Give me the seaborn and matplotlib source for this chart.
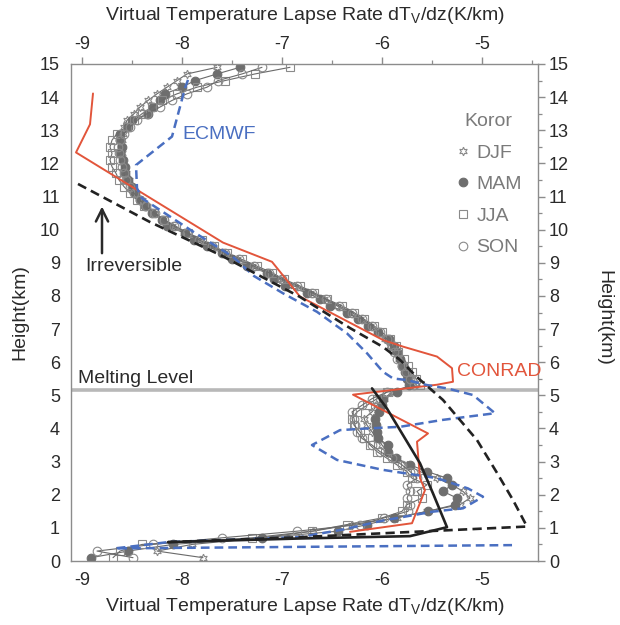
import matplotlib
matplotlib.use("Agg")
import matplotlib.pyplot as plt
import seaborn as sns
import pandas as pd
from matplotlib.lines import Line2D
from matplotlib.ticker import MultipleLocator

# ---------------- data ----------------
heights = [0.1, 0.3, 0.5, 0.7, 0.9, 1.1, 1.3, 1.5, 1.7, 1.9, 2.1, 2.3, 2.5, 2.7, 2.9,
           3.1, 3.3, 3.5, 3.7, 3.9, 4.1, 4.3, 4.5, 4.7, 4.9, 5.1, 5.3, 5.5, 5.7, 5.9,
           6.1, 6.3, 6.5, 6.7, 6.9, 7.1, 7.3, 7.5, 7.7, 7.9, 8.1, 8.3, 8.5, 8.7, 8.9,
           9.1, 9.3, 9.5, 9.7, 9.9, 10.1, 10.3, 10.5, 10.7, 10.9, 11.1, 11.3, 11.5, 11.7, 11.9,
           12.1, 12.3, 12.5, 12.7, 12.9, 13.1, 13.3, 13.5, 13.7, 13.9, 14.1, 14.3, 14.5, 14.7, 14.9]

djf = [-7.79, -8.25, -7.90, -7.20, -6.69, -6.30, -5.85, -5.55, -5.22, -5.12, -5.19, -5.30, -5.45, -5.62, -5.75,
       -5.85, -5.95, -6.00, -6.05, -6.10, -6.15, -6.18, -6.10, -6.05, -5.98, -5.90,
       -5.70, -5.72, -5.74, -5.78, -5.83, -5.87, -5.92, -5.97, -6.05, -6.12, -6.22, -6.33, -6.45, -6.58,
       -6.72, -6.88, -7.02, -7.15, -7.30, -7.45, -7.58, -7.72, -7.85, -7.98, -8.10, -8.20, -8.28, -8.35,
       -8.40, -8.46, -8.50, -8.53, -8.56, -8.58, -8.60, -8.60, -8.61, -8.60, -8.59,
       -8.58, -8.55, -8.48, -8.42, -8.34, -8.25, -8.15, -8.05, -7.95, -7.65]
mam = [-8.91, -8.54, -8.09, -7.20, -6.44, -6.15, -5.88, -5.54, -5.27, -5.25, -5.39, -5.30, -5.35, -5.55, -5.72,
       -5.86, -5.94, -5.94, -6.04, -6.05, -6.06, -6.07, -6.03, -6.00, -5.99, -5.85,
       -5.73, -5.75, -5.77, -5.80, -5.82, -5.85, -5.88, -5.93, -6.04, -6.14, -6.24, -6.35, -6.52, -6.62,
       -6.75, -6.97, -7.08, -7.15, -7.35, -7.50, -7.60, -7.75, -7.88, -7.97, -8.15, -8.20, -8.30, -8.37,
       -8.42, -8.47, -8.50, -8.54, -8.57, -8.57, -8.59, -8.62, -8.60, -8.62, -8.62,
       -8.54, -8.50, -8.34, -8.29, -8.22, -8.17, -8.00, -7.87, -7.65, -7.42]
jja = [-8.69, -8.62, -8.40, -7.30, -6.70, -6.35, -6.00, -5.80, -5.75, -5.60, -5.65, -5.55, -5.70, -5.75, -5.85,
       -5.95, -6.05, -6.12, -6.18, -6.22, -6.28, -6.30, -6.25, -6.15, -6.05, -5.95,
       -5.62, -5.66, -5.70, -5.74, -5.78, -5.84, -5.86, -5.92, -6.00, -6.08, -6.18, -6.28, -6.40, -6.55,
       -6.68, -6.82, -6.98, -7.10, -7.25, -7.40, -7.55, -7.68, -7.80, -7.94, -8.06, -8.18, -8.28, -8.38,
       -8.45, -8.52, -8.58, -8.63, -8.66, -8.70, -8.72, -8.70, -8.72, -8.70, -8.65,
       -8.55, -8.48, -8.40, -8.30, -8.20, -8.05, -7.85, -7.57, -7.27, -6.92]
son = [-8.49, -8.85, -8.29, -7.60, -6.85, -6.22, -5.98, -5.74, -5.72, -5.75, -5.72, -5.75, -5.65, -5.72, -5.80,
       -5.90, -6.02, -6.10, -6.20, -6.25, -6.27, -6.28, -6.30, -6.20, -6.10, -5.95,
       -5.68, -5.72, -5.76, -5.80, -5.85, -5.88, -5.90, -5.95, -6.02, -6.10, -6.20, -6.30, -6.43, -6.56,
       -6.70, -6.85, -7.00, -7.13, -7.28, -7.43, -7.57, -7.70, -7.83, -7.95, -8.08, -8.18, -8.27, -8.36,
       -8.42, -8.48, -8.52, -8.56, -8.58, -8.60, -8.62, -8.63, -8.64, -8.62, -8.58,
       -8.52, -8.45, -8.35, -8.22, -8.10, -7.95, -7.75, -7.64, -7.40, -7.20]

conrad_x = [-8.89, -8.92, -9.06, -7.59, -7.10, -6.82, -5.99, -5.79, -5.45, -5.30, -5.29, -5.45, -6.29,
            -5.54, -5.65, -5.62, -5.57, -5.70, -6.32]
conrad_y = [14.11, 13.18, 12.33, 9.61, 9.03, 7.98, 6.67, 6.47, 6.17, 5.82, 5.41, 5.32, 5.02,
            3.85, 3.60, 2.50, 2.14, 1.14, 0.88]

ecmwf_x = [-7.94, -7.97, -8.10, -8.46, -8.45, -8.40, -7.92, -7.49, -7.28, -6.99, -6.65, -6.35, -6.15,
           -5.99, -5.89, -5.75, -5.55, -5.35, -5.09, -4.87, -5.39, -5.82, -6.15, -6.42, -6.70, -6.45,
           -5.99, -5.45, -5.14, -4.99, -5.19, -5.49, -5.99, -6.39, -6.82, -8.14, -8.67, -4.67]
ecmwf_y = [14.52, 14.27, 12.81, 11.95, 11.25, 10.95, 10.00, 9.18, 8.60, 8.08, 7.52, 6.87, 6.27,
           5.71, 5.51, 5.46, 5.31, 5.21, 5.01, 4.46, 4.26, 4.05, 4.00, 3.95, 3.50, 3.05,
           2.75, 2.50, 2.19, 1.94, 1.59, 1.49, 1.22, 0.95, 0.72, 0.57, 0.38, 0.48]

irrev_x = [-9.04, -8.32, -7.62, -6.82, -6.32, -5.99, -5.82, -5.65, -5.39, -5.05, -4.85, -4.69, -4.55, -6.82, -8.14]
irrev_y = [11.38, 10.23, 9.24, 7.97, 7.03, 6.46, 6.07, 5.55, 4.86, 3.65, 2.66, 1.84, 1.04, 0.72, 0.57]

rev_x = [-6.10, -5.95, -5.82, -5.62, -5.49, -5.35, -5.72, -6.82, -8.14]
rev_y = [5.21, 4.60, 3.95, 2.95, 2.04, 1.02, 0.75, 0.68, 0.57]

melting_level = 5.16
x_ticks = [-9, -8, -7, -6, -5]
y_ticks = list(range(0, 16))
season_names = ["DJF", "MAM", "JJA", "SON"]

# ---------------- style ----------------
sns.set_theme(style="white")
plt.rcParams["font.family"] = ["Liberation Sans", "DejaVu Sans"]
plt.rcParams["axes.unicode_minus"] = False

fig = plt.figure(figsize=(6.2, 6.25), dpi=100)
ax = fig.add_axes([71 / 620, 1 - 561 / 625, 467 / 620, 497 / 625])

GRAY = "#6a6a6a"
series = {"DJF": djf, "MAM": mam, "JJA": jja, "SON": son}
mstyle = {
    "DJF": dict(marker=(6, 1, 0), markersize=6.2, markerfacecolor="none", markeredgecolor="#8a8a8a"),
    "MAM": dict(marker="o", markersize=6.2, markerfacecolor="#6e6e6e", markeredgecolor="#6e6e6e"),
    "JJA": dict(marker="s", markersize=6.2, markerfacecolor="none", markeredgecolor="#8a8a8a"),
    "SON": dict(marker="o", markersize=6.2, markerfacecolor="none", markeredgecolor="#8a8a8a"),
}
for name in season_names:
    df = pd.DataFrame({"lapse": series[name], "height": heights})
    sns.lineplot(data=df, x="lapse", y="height", sort=False, estimator=None, ax=ax,
                 color=GRAY, linewidth=0.8, markeredgewidth=0.8, zorder=2, **mstyle[name])

RED = "#e2553b"
BLUE = "#4a6fc1"
sns.lineplot(x=conrad_x, y=conrad_y, sort=False, estimator=None, ax=ax, color=RED, linewidth=1.4, zorder=3)
sns.lineplot(x=ecmwf_x, y=ecmwf_y, sort=False, estimator=None, ax=ax, color=BLUE, linewidth=1.8,
             linestyle=(0, (3.5, 2.0)), zorder=3)
sns.lineplot(x=irrev_x, y=irrev_y, sort=False, estimator=None, ax=ax, color="#222222", linewidth=1.9,
             linestyle=(0, (3.5, 2.0)), zorder=4)
sns.lineplot(x=rev_x, y=rev_y, sort=False, estimator=None, ax=ax, color="#222222", linewidth=1.9, zorder=4)

ax.axhline(melting_level, color="#b8b8b8", linewidth=2.6, zorder=1)

# ---------------- axes ----------------
ax.set_xlim(-9.11, -4.44)
ax.set_ylim(0, 15)
ax.set_xticks(x_ticks)
ax.set_yticks(y_ticks)
ax.xaxis.set_minor_locator(MultipleLocator(0.5))
ax.yaxis.set_minor_locator(MultipleLocator(0.5))
for s in ax.spines.values():
    s.set_color("#8c8c8c")
    s.set_linewidth(1.0)
ax.tick_params(which="both", direction="out", color="#8c8c8c", labelcolor="#2a2a2a",
               top=True, right=True, labeltop=True, labelright=True, labelsize=13, pad=3)
ax.tick_params(which="major", length=5, width=1.0)
ax.tick_params(which="minor", length=3, width=0.9)

xlabel = r"Virtual Temperature Lapse Rate dT$_\mathregular{V}$/dz(K/km)"
ax.set_xlabel(xlabel, fontsize=14, color="#2a2a2a", labelpad=5)
ax.set_ylabel("Height(km)", fontsize=14, color="#2a2a2a", labelpad=8)
fig.text(304.5 / 620, 1 - 16 / 625, xlabel, fontsize=14, color="#2a2a2a", ha="center", va="center")
fig.text(604 / 620, 1 - 318 / 625, "Height(km)", fontsize=14, color="#2a2a2a", rotation=270,
         ha="center", va="center")

# ---------------- annotations ----------------
ax.text(-9.04, 5.51, "Melting Level", fontsize=14, color="#2a2a2a", ha="left", va="center", zorder=5)
ax.text(-8.00, 12.86, "ECMWF", fontsize=14, color=BLUE, ha="left", va="center")
ax.text(-5.25, 5.73, "CONRAD", fontsize=14, color=RED, ha="left", va="center", clip_on=False)
ax.text(-8.97, 8.88, "Irreversible", fontsize=14, color="#2a2a2a", ha="left", va="center")
ax.annotate("", xy=(-8.80, 10.70), xytext=(-8.80, 9.29),
            arrowprops=dict(arrowstyle="->", lw=1.8, color="#2a2a2a", mutation_scale=22,
                            shrinkA=0, shrinkB=0))

# ---------------- legend ----------------
handles = [Line2D([], [], linestyle="none", markeredgewidth=0.8, **mstyle[n]) for n in season_names]
leg = ax.legend(handles, season_names, title="Koror", loc="upper left",
                bbox_to_anchor=((455 - 71) / 467, (561 - 113) / 497), frameon=False,
                fontsize=14, title_fontsize=14, handlelength=0.8, handletextpad=0.3,
                labelspacing=0.72, borderpad=0, borderaxespad=0)
for t in leg.get_texts():
    t.set_color("#7a7a7a")
leg.get_title().set_color("#7a7a7a")

fig.savefig("out.png", dpi=100)
